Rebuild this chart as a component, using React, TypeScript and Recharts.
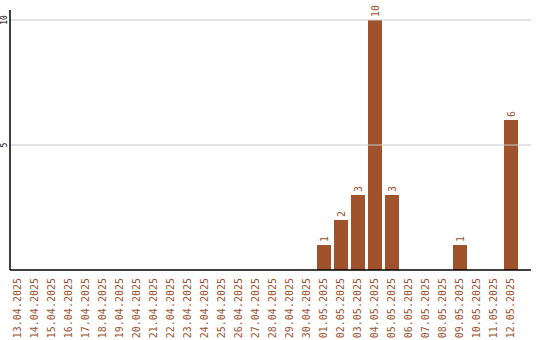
import React from "react";
import { BarChart, Bar, XAxis, YAxis, ReferenceLine, LabelList } from "recharts";

const dates = [
  "13.04.2025", "14.04.2025", "15.04.2025", "16.04.2025", "17.04.2025",
  "18.04.2025", "19.04.2025", "20.04.2025", "21.04.2025", "22.04.2025",
  "23.04.2025", "24.04.2025", "25.04.2025", "26.04.2025", "27.04.2025",
  "28.04.2025", "29.04.2025", "30.04.2025", "01.05.2025", "02.05.2025",
  "03.05.2025", "04.05.2025", "05.05.2025", "06.05.2025", "07.05.2025",
  "08.05.2025", "09.05.2025", "10.05.2025", "11.05.2025", "12.05.2025",
];

const counts = [
  0, 0, 0, 0, 0, 0, 0, 0, 0, 0, 0, 0, 0, 0, 0, 0, 0, 0,
  1, 2, 3, 10, 3, 0, 0, 0, 1, 0, 0, 6,
];

const yTicks = [5, 10];

const data = dates.map((d, i) => ({ date: d, count: counts[i] }));

const BROWN = "#a0522d";
const MONO = "'DejaVu Sans Mono', monospace";

function DateTick({ x, y, payload }: any) {
  const bx = x + 3.5;
  return (
    <text
      x={bx}
      y={y}
      transform={`rotate(-90, ${bx}, ${y})`}
      textAnchor="end"
      fill={BROWN}
      fontSize={10}
      fontFamily={MONO}
    >
      {payload.value}
    </text>
  );
}

function ValueTick({ y, payload }: any) {
  return (
    <text
      x={7}
      y={y}
      transform={`rotate(-90, 7, ${y})`}
      textAnchor="middle"
      fill="#000"
      fontSize={8}
      fontFamily={MONO}
    >
      {payload.value}
    </text>
  );
}

function BarLabel({ x, y, width, value }: any) {
  if (!value) return null;
  const cx = x + width / 2 + 3.5;
  const cy = y - 3;
  return (
    <text
      x={cx}
      y={cy}
      transform={`rotate(-90, ${cx}, ${cy})`}
      textAnchor="start"
      fill={BROWN}
      fontSize={10}
      fontFamily={MONO}
    >
      {value}
    </text>
  );
}

export default function App() {
  return (
    <div>
      <style>{"body{margin:0}"}</style>
      <BarChart
        width={540}
        height={340}
        data={data}
        margin={{ top: 10, right: 9, bottom: 0, left: 0 }}
      >
        {yTicks.map((t) => (
          <ReferenceLine key={t} y={t} stroke="#c8c8c8" />
        ))}
        <XAxis
          dataKey="date"
          interval={0}
          height={70}
          tickLine={false}
          axisLine={{ stroke: "#000", strokeWidth: 1.5 }}
          padding={{ left: -1, right: 12 }}
          tick={<DateTick />}
        />
        <YAxis
          width={10}
          domain={[0, 10.4]}
          ticks={yTicks}
          tickLine={false}
          axisLine={{ stroke: "#000", strokeWidth: 1.5 }}
          tick={<ValueTick />}
        />
        <Bar dataKey="count" fill={BROWN} barSize={14} isAnimationActive={false}>
          <LabelList dataKey="count" content={<BarLabel />} />
        </Bar>
      </BarChart>
    </div>
  );
}
